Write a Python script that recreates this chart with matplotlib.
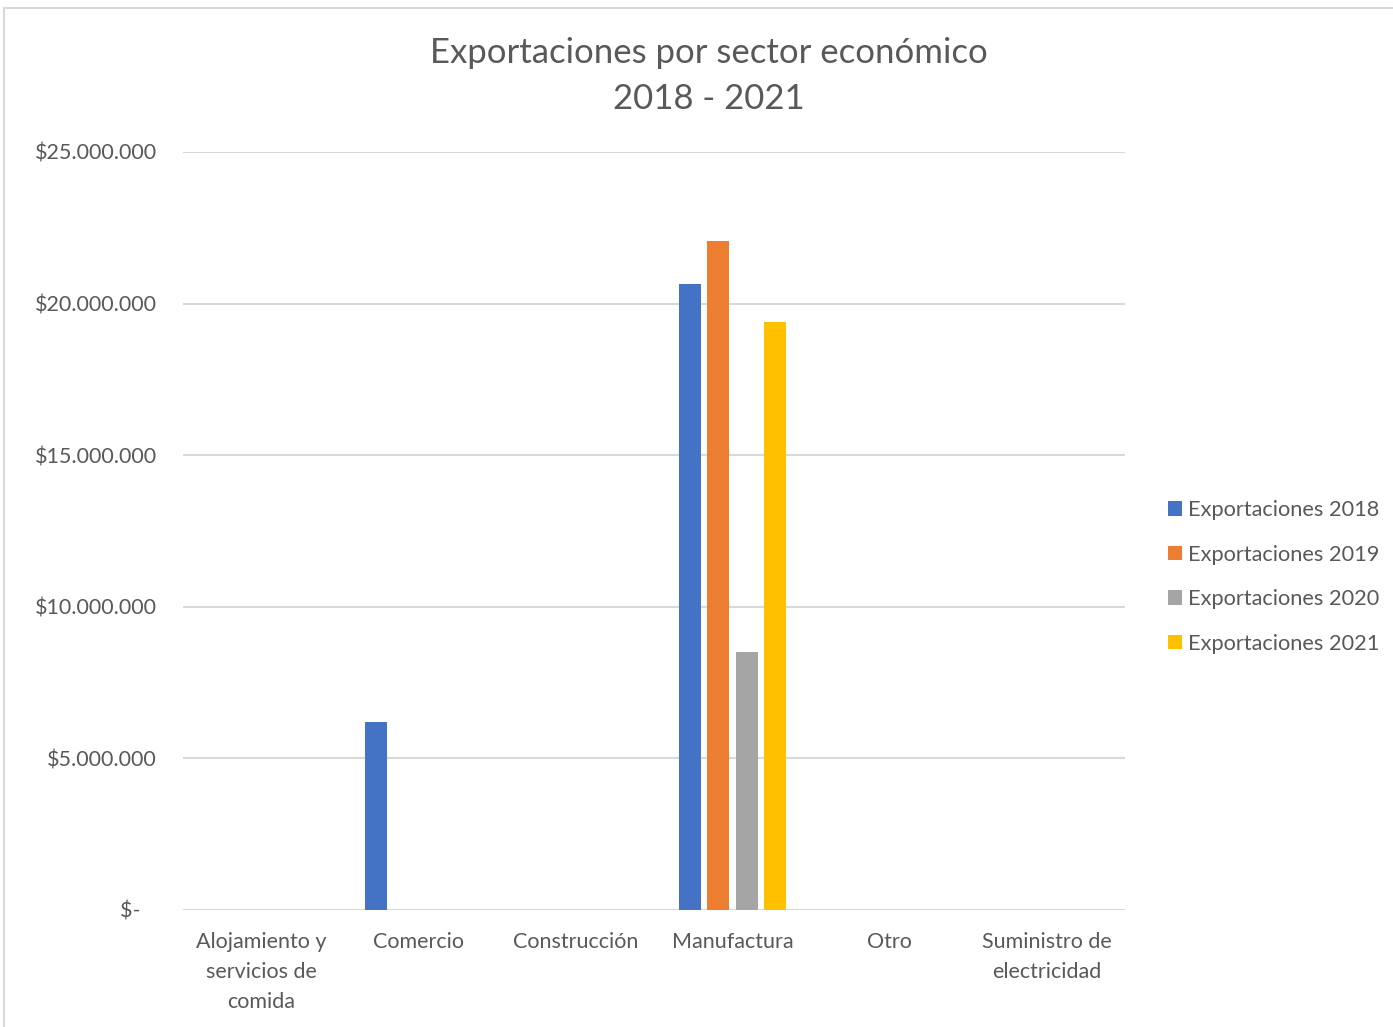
import matplotlib
matplotlib.use("Agg")
import matplotlib.pyplot as plt
import numpy as np
from matplotlib.patches import Rectangle
from matplotlib.ticker import FuncFormatter

categories = ["Alojamiento y\nservicios de\ncomida", "Comercio", "Construcción",
              "Manufactura", "Otro", "Suministro de\nelectricidad"]
series_names = ["Exportaciones 2018", "Exportaciones 2019",
                "Exportaciones 2020", "Exportaciones 2021"]
exp_2018 = [0, 6200000, 0, 20650000, 0, 0]
exp_2019 = [0, 0, 0, 22070000, 0, 0]
exp_2020 = [0, 0, 0, 8510000, 0, 0]
exp_2021 = [0, 0, 0, 19390000, 0, 0]
yticks = [0, 5000000, 10000000, 15000000, 20000000, 25000000]
colors = ["#4472C4", "#ED7D31", "#A5A5A5", "#FFC000"]

plt.rcParams['font.family'] = ['Lato', 'DejaVu Sans']
txt = "#595959"

fig = plt.figure(figsize=(13.93, 10.27), dpi=100)
fig.patches.append(Rectangle((4/1393, -0.01), 1.02, 1 - 8/1027 + 0.01, transform=fig.transFigure,
                             fill=False, edgecolor="#D9D9D9", linewidth=1.5))
ax = fig.add_axes([183/1393, 1 - 910/1027, (1125 - 183)/1393, (910 - 152)/1027])

x = np.arange(len(categories))
w = 22/157
step = 28.5/157
data = [exp_2018, exp_2019, exp_2020, exp_2021]
for i, (vals, name, c) in enumerate(zip(data, series_names, colors)):
    ax.bar(x + (i - 1.5)*step, vals, width=w, color=c, label=name, zorder=3)

ax.set_xlim(-0.5, len(categories) - 0.5)
ax.set_ylim(0, 25000000)
ax.set_yticks(yticks)

def fmt(v, pos):
    if v == 0:
        return "$-   "
    return "$" + f"{int(v):,}".replace(",", ".")

ax.yaxis.set_major_formatter(FuncFormatter(fmt))
ax.set_xticks(x)
ax.set_xticklabels(categories, linespacing=1.62, va="top")
ax.tick_params(axis="both", length=0, labelsize=15.5, colors=txt)
ax.tick_params(axis="x", pad=16)
ax.tick_params(axis="y", pad=19)
ax.grid(axis="y", color="#D9D9D9", linewidth=1.5, zorder=0)
for s in ax.spines.values():
    s.set_visible(False)

fig.text(709/1393, 1 - 76/1027, "Exportaciones por sector económico\n2018 - 2021",
         ha="center", va="center", fontsize=25, color=txt, linespacing=1.55)

leg = ax.legend(loc="center left", bbox_to_anchor=(1148/1393, 1 - 577/1027),
                bbox_transform=fig.transFigure, frameon=False, fontsize=15.7,
                handlelength=0.65, handleheight=0.65, handletextpad=0.3,
                labelspacing=1.12, labelcolor=txt)

fig.savefig("out.png", dpi=100)
